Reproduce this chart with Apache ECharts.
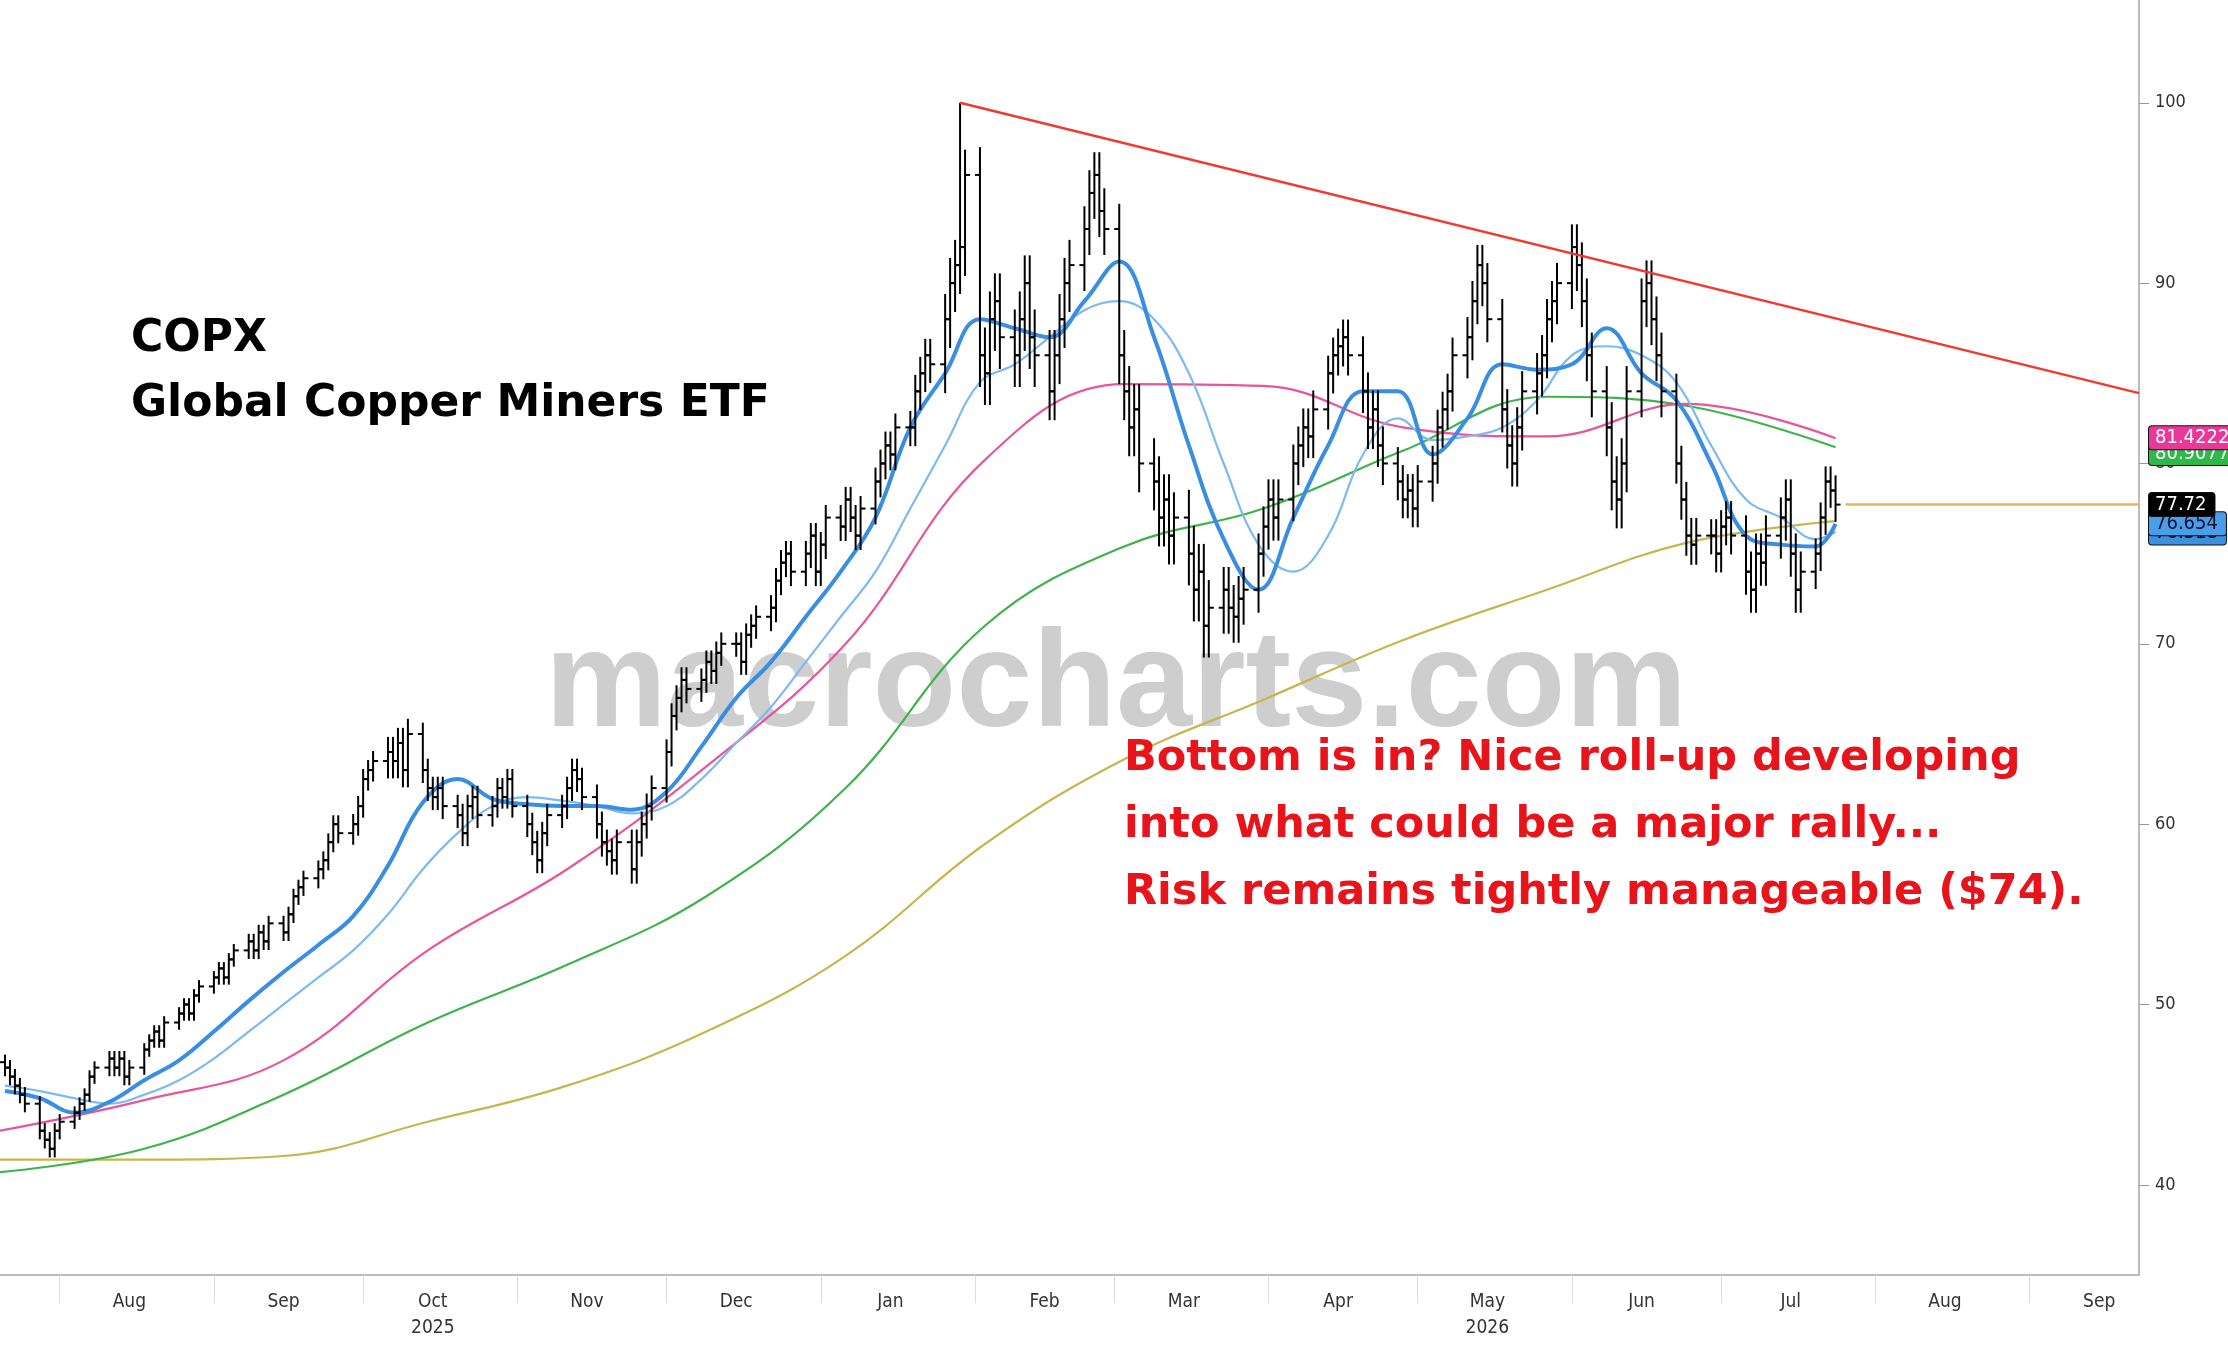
<!DOCTYPE html>
<html><head><meta charset="utf-8">
<script src="https://cdn.jsdelivr.net/npm/echarts@6/dist/echarts.min.js"></script>
<style>html,body{margin:0;padding:0;background:#fff}#c{width:2228px;height:1364px}</style>
</head><body><div id="c"></div>
<script>
// Weekly closes (5 trading days per week, starting Mon 2025-07-21)
const closes = [
 [46.5,46,45.5,45,44.5],[43,42.5,42,43,43.5],[44,44.5,45,46,46.5],[47,46.5,47,46,46.5],
 [47.5,48,48.5,48,49],[49.5,50,49.5,50.5,51],[51.5,52,51.5,52.5,53],[53.5,53,54,53.5,54.5],
 [54,55,56,56.5,57],[57.5,58,59,60,59.5],[60,61,62.5,63,63.5],[64,63.5,64.5,63,65],
 [63,62,61.5,62,61],[60.5,59.5,61,61.5,60.5],[61,62,61.5,62.5,61],[60,59,58,59.5,60.5],
 [61,62,63,62.5,61.5],[60,59,58.5,58,59],[57.5,59,60,61,62],[64,66,67,68,67.5],
 [68,69,68.5,69.5,70],[70,69,70.5,71,71.5],[72,73.5,74.5,75,74],[75,76,74,75.5,77],
 [76.5,78,77,76,77.5],[79,80,81,80.5,82],[82,84,85,86,85.5],[88,90,91,92,96],
 [86,85,88,89,87],[86,88,90,87,86],[84,86,88,90,91],[93,95,96,94,93],
 [86,84,82,83,80],[79,77,78,76,77],[75,73,74,71,72],[73,72,71.5,72.5,73],
 [75,76.5,78,77,78],[80,81,82,81.5,83],[85,86,86.5,87,86],[84,82,83,81,80],
 [79,78,78.5,77.5,79],[80,82,83,84,86],[87,89,91,90,88],[83,81,80,82,84],
 [85,86,88,89,90],[92,91,89,86,84],[82,79,78,80,84],[89,90,88,86,84],
 [80,78,76,75.5,76],[76,75,76.5,77,76],[74,73,75,74.5,76],[77,78,75,73,74],
 [75,77,79,78.5,77.72]
];
// extra wick beyond open/close per week
const wick = [0.6,0.6,0.5,0.6,0.5,0.5,0.5,0.6,0.6,0.7,0.8,1.2,0.9,0.9,0.8,0.9,0.9,1.0,1.0,1.0,
 0.9,0.9,1.0,1.0,1.0,1.1,1.3,2.0,2.2,2.2,2.0,1.8,2.0,2.0,2.2,1.8,1.6,1.5,1.4,1.5,1.3,1.4,1.6,
 1.6,1.6,1.8,2.0,1.8,1.4,1.3,1.6,1.6,1.2];
const spikes = [[138, 100]];
// Moving averages at week starts (+ final day)
const ma10 = [45.2,44.8,44,44.6,45.8,46.9,48.5,50.2,51.8,53.3,54.9,57.7,61.2,62.5,61.4,61.1,61,61,60.8,61.8,
 64.3,67,69,71.5,74,77,82,85,88,87.5,87,89,91.2,87,81,75.8,73,77,81,84,84,80.5,82.5,85.5,85.2,85.5,87.5,85,83.5,80,76,75.5,75.4,76.65];
const ma20 = [45.5,45.2,44.8,44.5,45,45.8,47,48.5,50,51.5,53,55,57.5,59.5,61,61.5,61.3,61,60.6,61,
 62.5,64.5,66.5,69,71.5,74,77.5,81,84.5,85.5,87,88.5,89,88,85,80,75.5,74,76,80.5,82.5,81.3,81.5,82,83.5,86,86.5,86,84.5,81,78,77,75.8,76.2];
const maDates = ['2025-07-20','2025-08-18','2025-09-15','2025-10-14','2025-11-11','2025-12-09','2026-01-06',
 '2026-02-03','2026-03-03','2026-03-31','2026-04-28','2026-05-27','2026-06-24','2026-07-24'];
const ma50 = [43,44.7,46.9,53,57.5,63.2,70,80.2,84.4,84.3,82,81.5,83.3,81.4];
const ma100 = [40.7,42,45,49,52.2,56,62,71,75.4,77.5,80.7,83.7,83.2,80.9];
const ma200 = [41.4,41.4,41.6,43.5,45.5,48.5,52.7,58.9,63.6,66.9,70.2,73,75.6,76.8];
const trend = [['2026-01-29',100],['2026-09-23',83.9]];
const lastPrice = 77.72;
const tags = [[80.55,'80.9077','#2fb84a','#fff'],[81.42,'81.4222','#e8399a','#fff'],
 [76.15,'76.318','#3d8fe0','#000'],[76.654,'76.654','#4a9de8','#113'],[77.72,'77.72','#000','#fff']];
const yTicks = [40,50,60,70,80,90,100];
const monthNames = ['Jan','Feb','Mar','Apr','May','Jun','Jul','Aug','Sep','Oct','Nov','Dec'];

const D = s => { const p = s.split('-'); return Date.UTC(+p[0], +p[1]-1, +p[2]); };
const DAY = 86400000;
const dates = [];
for (let w = 0; w < closes.length; w++) for (let d = 0; d < 5; d++) dates.push(D('2025-07-21') + (w*7 + d)*DAY);
const flat = closes.flat();
const ohlc = flat.map((c, i) => {
  const o = i ? flat[i-1] : c + 0.3;
  const wk = wick[Math.floor(i/5)];
  let h = Math.max(o,c) + wk*0.7, l = Math.min(o,c) - wk*0.8;
  spikes.forEach(s => { if (s[0] === i) h = s[1]; });
  return [dates[i], o, c, l, h];
});
const weekDates = closes.map((_, w) => D('2025-07-21') + w*7*DAY).concat([dates[dates.length-1]]);
const xMin = D('2025-07-20'), xMax = D('2026-09-23');
const monthStarts = [], monthMids = [];
for (let m = 7; m <= 20; m++) { monthStarts.push(Date.UTC(2025, m, 1)); monthMids.push(Date.UTC(2025, m, 15)); }

const lineS = (name, xs, ys, color, width, z) => ({
  type: 'line', name, data: ys.map((v, i) => [typeof xs[i] === 'string' ? D(xs[i]) : xs[i], v]),
  smooth: 0.4, showSymbol: false, lineStyle: { color, width }, z: z || 3, silent: true
});

const chart = echarts.init(document.getElementById('c'));
chart.setOption({
  animation: false,
  grid: { left: 0, right: 89, top: 0, bottom: 89 },
  xAxis: {
    type: 'value', min: xMin, max: xMax,
    axisLine: { show: true, lineStyle: { color: '#bbb', width: 2 } },
    splitLine: { show: false },
    axisTick: { show: true, customValues: monthStarts, length: 28, lineStyle: { color: '#ddd' } },
    axisLabel: {
      customValues: monthMids, color: '#333', fontSize: 19, fontFamily: 'DejaVu Sans Condensed, DejaVu Sans',
      margin: 14, lineHeight: 26,
      formatter: v => { const d = new Date(v); const m = d.getUTCMonth(), y = d.getUTCFullYear();
        let s = monthNames[m];
        if (y === 2025 && m === 9) s += '\n2025';
        if (y === 2026 && m === 4) s += '\n2026';
        return s; }
    }
  },
  yAxis: {
    type: 'value', position: 'right', min: 35, max: 105.7,
    axisLine: { show: true, lineStyle: { color: '#bbb', width: 2 } },
    splitLine: { show: false },
    axisTick: { show: true, customValues: yTicks, length: 10, lineStyle: { color: '#999' } },
    axisLabel: { customValues: yTicks, color: '#333', fontSize: 18, fontFamily: 'DejaVu Sans Condensed, DejaVu Sans', margin: 16 }
  },
  graphic: [
    { type: 'text', left: 545, top: 620, z: 0, style: { text: 'macrocharts.com', fill: 'rgba(190,190,190,0.75)',
      font: 'bold 137px "Liberation Sans", Arial' } },
    { type: 'text', left: 131, top: 318, z: 10, style: { text: 'COPX', fill: '#000', font: 'bold 44px "DejaVu Sans", Arial' } },
    { type: 'text', left: 131, top: 383, z: 10, style: { text: 'Global Copper Miners ETF', fill: '#000', font: 'bold 44px "DejaVu Sans", Arial' } },
    { type: 'text', left: 1124, top: 725, z: 10, style: { text: 'Bottom is in? Nice roll-up developing\ninto what could be a major rally...\nRisk remains tightly manageable ($74).',
      fill: '#e8141b', font: 'bold 43px "DejaVu Sans", Arial', lineHeight: 67 } }
  ],
  series: [
    lineS('200d', maDates, ma200, '#c9b54e', 2.2),
    lineS('100d', maDates, ma100, '#3db44b', 2.2),
    lineS('50d', maDates, ma50, '#e8559a', 2.2),
    lineS('20d', weekDates, ma20, '#7cbaf0', 2.2),
    lineS('10d', weekDates, ma10, '#3a8ee2', 4),
    {
      type: 'custom', name: 'COPX', data: ohlc, z: 5, silent: true,
      renderItem: (params, api) => {
        const x = api.value(0);
        const pO = api.coord([x, api.value(1)]), pC = api.coord([x, api.value(2)]);
        const pL = api.coord([x, api.value(3)]), pH = api.coord([x, api.value(4)]);
        const st = { stroke: '#000', lineWidth: 2 };
        return { type: 'group', children: [
          { type: 'line', shape: { x1: pH[0], y1: pH[1], x2: pL[0], y2: pL[1] }, style: st },
          { type: 'line', shape: { x1: pO[0]-5, y1: pO[1], x2: pO[0], y2: pO[1] }, style: st },
          { type: 'line', shape: { x1: pC[0], y1: pC[1], x2: pC[0]+5, y2: pC[1] }, style: st }
        ]};
      }
    },
    {
      type: 'line', name: 'trend', data: trend.map(p => [D(p[0]), p[1]]), showSymbol: false,
      lineStyle: { color: '#f03a30', width: 2.5 }, z: 6, silent: true
    },
    {
      type: 'line', name: 'last', data: [[dates[dates.length-1] + 2*DAY, lastPrice], [xMax, lastPrice]], showSymbol: false,
      lineStyle: { color: '#e8b45a', width: 2.5 }, z: 6, silent: true,
      markPoint: {
        symbol: 'rect', symbolSize: 0, silent: true,
        data: tags.map(t => ({ coord: [xMax, t[0]], label: { show: true, position: 'right', distance: 10,
          formatter: t[1], backgroundColor: t[2], color: t[3], fontSize: 20, fontFamily: 'DejaVu Sans Condensed, DejaVu Sans',
          padding: [2, 8, 1, 6], borderRadius: 3, borderColor: '#111', borderWidth: 1 } }))
      }
    }
  ]
});
</script></body></html>
